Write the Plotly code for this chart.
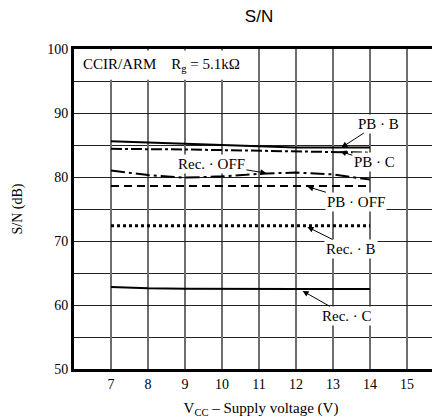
import plotly.graph_objects as go

vcc = [7, 8, 9, 10, 11, 12, 13, 14]
pb_b = [85.6, 85.4, 85.2, 84.9, 84.7, 84.6, 84.6, 84.6]
pb_c = [84.4, 84.4, 84.3, 84.2, 84.1, 84.0, 83.9, 83.8]
rec_off = [81.0, 80.3, 79.9, 80.1, 80.5, 80.7, 80.4, 79.6]
pb_off = [78.6, 78.6, 78.6, 78.6, 78.6, 78.6, 78.6, 78.6]
rec_b = [72.4, 72.4, 72.4, 72.4, 72.4, 72.4, 72.4, 72.4]
rec_c = [62.8, 62.6, 62.55, 62.5, 62.5, 62.5, 62.5, 62.5]

x_ticks = [7, 8, 9, 10, 11, 12, 13, 14, 15]
y_ticks = [50, 60, 70, 80, 90, 100]

serif = "Liberation Serif, Times New Roman, serif"

fig = go.Figure()
series = [
    (pb_b, dict(color="black", width=2, dash="solid")),
    (pb_c, dict(color="black", width=2, dash="11px,3px,3px,3px")),
    (rec_off, dict(color="black", width=2, dash="14px,4px,3px,4px")),
    (pb_off, dict(color="black", width=2, dash="8px,5px")),
    (rec_b, dict(color="black", width=3, dash="dot")),
    (rec_c, dict(color="black", width=2, dash="solid")),
]
for ys, ln in series:
    fig.add_trace(go.Scatter(x=vcc, y=ys, mode="lines", line=ln, showlegend=False, hoverinfo="skip"))

# header box covering vertical grid lines
fig.add_shape(type="rect", x0=6.03, x1=10.95, y0=95.2, y1=99.75, fillcolor="white",
              line=dict(width=0), layer="above")
fig.add_annotation(x=6.2, y=97.5, xanchor="left", yanchor="middle", showarrow=False,
                   text="CCIR/ARM&nbsp;&nbsp;&nbsp;&nbsp;R<sub>g</sub> = 5.1kΩ",
                   font=dict(family=serif, size=15, color="black"))

labels = [
    ("PB · B", 13.23, 84.6, 37, -24),
    ("PB · C", 13.2, 84.0, 34, 11),
    ("Rec. · OFF", 11.2, 80.6, -55, -9),
    ("PB · OFF", 12.31, 78.5, 49, 15),
    ("Rec. · B", 12.31, 72.2, 44, 22),
    ("Rec. · C", 12.18, 62.2, 44, 25),
]
for txt, xx, yy, ax, ay in labels:
    fig.add_annotation(x=xx, y=yy, ax=ax, ay=ay, text=txt, showarrow=True,
                       arrowhead=2, arrowsize=1.2, arrowwidth=1, arrowcolor="black",
                       bgcolor="white", borderpad=1,
                       font=dict(family=serif, size=15, color="black"))

fig.update_layout(
    width=440, height=419,
    margin=dict(l=66, r=0, t=41, b=58),
    paper_bgcolor="white", plot_bgcolor="white",
    title=dict(text="S/N", x=251/440, xref="container", xanchor="center",
               y=1 - 2/419, yanchor="top",
               font=dict(family="Liberation Sans, Arial, sans-serif", size=17, color="black")),
    xaxis=dict(range=[6, 16.11], tickvals=x_ticks, ticktext=[str(v) for v in x_ticks],
               showgrid=True, gridcolor="#6e6e6e", gridwidth=1.5,
               showline=True, linecolor="black", linewidth=3, mirror=True,
               ticks="", zeroline=False,
               tickfont=dict(family=serif, size=14, color="black"),
               title=dict(text="V<sub>CC</sub> – Supply voltage (V)", standoff=12,
                          font=dict(family=serif, size=15, color="black"))),
    yaxis=dict(range=[50, 100], tickvals=y_ticks, ticktext=[str(v) for v in y_ticks],
               showgrid=True, gridcolor="#222222", gridwidth=1,
               minor=dict(dtick=5, showgrid=True, gridcolor="#222222", gridwidth=1),
               showline=True, linecolor="black", linewidth=3,
               ticks="", zeroline=False,
               tickfont=dict(family=serif, size=14, color="black"),
               title=dict(text="S/N (dB)", standoff=22,
                          font=dict(family=serif, size=14, color="black"))),
)

fig.write_html("out.html")
